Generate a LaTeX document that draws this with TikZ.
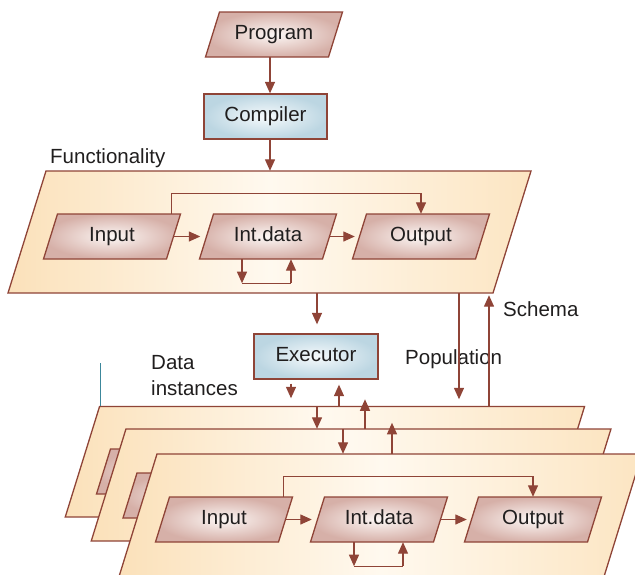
\documentclass[tikz,border=0pt]{standalone}
\usepackage{fontspec}
\setmainfont{Liberation Sans}
\usetikzlibrary{arrows.meta,calc}

\definecolor{edge}{RGB}{143,68,55}
\definecolor{ink}{RGB}{32,30,30}
\definecolor{peachL}{RGB}{251,225,186}
\definecolor{peachM}{RGB}{255,249,239}
\definecolor{peachR}{RGB}{252,229,194}
\definecolor{pinkO}{RGB}{214,176,168}
\definecolor{pinkI}{RGB}{252,247,245}
\definecolor{blueO}{RGB}{188,214,226}
\definecolor{blueI}{RGB}{246,250,252}
\definecolor{tealline}{RGB}{60,135,155}

\newcommand\dgfont{\fontsize{20.5}{24.6}\selectfont}

% slanted quadrilateral: style, centre x, centre y, top-edge width, height, slant
\newcommand\slantshape[6]{%
  \path[#1] (#2-#4/2+#6/2,#3-#5/2) -- (#2+#4/2+#6/2,#3-#5/2)
    -- (#2+#4/2-#6/2,#3+#5/2) -- (#2-#4/2-#6/2,#3+#5/2) -- cycle;}

% a data box: name, centre x, centre y, label
\newcommand\databox[4]{%
  \slantshape{pbox}{#2}{#3}{123}{45}{14}%
  \node[btext] (#1) at (#2,#3) {#4};}

% a layer panel: name, centre x, centre y, height, slant
\newcommand\layer[5]{%
  \slantshape{panelfill}{#2}{#3}{485}{#4}{#5}%
  \node[pnode, minimum height=#4pt] (#1) at (#2,#3) {};}

\begin{document}
\begin{tikzpicture}[x=1pt,y=-1pt,
  pbox/.style={draw=edge, line width=1.3pt, inner color=pinkI, outer color=pinkO},
  btext/.style={inner sep=0pt, minimum width=123pt, minimum height=45pt,
    text height=15pt, text depth=4.3pt, font=\dgfont, text=ink},
  rbox/.style={draw=edge, line width=1.3pt, inner color=blueI, outer color=blueO,
    inner sep=0pt, minimum height=45pt, text height=15pt, text depth=4.3pt,
    font=\dgfont, text=ink},
  panelfill/.style={draw=edge, line width=1.3pt, left color=peachL,
    right color=peachR, middle color=peachM},
  pnode/.style={inner sep=0pt, minimum width=485pt},
  lbl/.style={inner sep=0pt, font=\dgfont, text=ink, anchor=base west},
  arr/.style={draw=edge, line width=1.3pt, -{Triangle[length=11.5pt,width=10pt]}},
  wire/.style={draw=edge, line width=1.3pt},
]
\useasboundingbox (0,0) rectangle (635,574);

% vertical lanes used by the connectors between layers
\coordinate (spine) at (270,0);
\coordinate (laneA) at (317,0);
\coordinate (laneB) at (291,0);
\coordinate (laneC) at (339,0);
\coordinate (laneD) at (365,0);
\coordinate (laneE) at (343,0);
\coordinate (laneF) at (392,0);
\coordinate (lanePop) at (459,0);
\coordinate (laneSch) at (489,0);
\coordinate (laneT) at (100,0);

% ---------- functionality layer ----------
\layer{func}{269.5}{232}{122}{38}
\databox{in1}{112}{236.5}{Input}
\databox{id1}{268}{236.5}{Int.data}
\databox{out1}{421}{236.5}{Output}
\draw[arr, shorten >=6pt] (in1.east) -- (id1.west);
\draw[arr, shorten >=4.5pt] (id1.east) -- (out1.west);
\draw[arr] ([xshift=-2pt]in1.north east) -- ++(0,-20) -| (out1.north);
\coordinate (lb1) at ([xshift=-26pt,yshift=-24pt]id1.south);
\coordinate (rb1) at ([xshift=23pt,yshift=-24pt]id1.south);
\draw[arr] (id1.south -| lb1) -- (lb1);
\draw[wire] (lb1) -- (rb1);
\draw[arr] (rb1) -- (id1.south -| rb1);

\node[lbl] (funclbl) at (50,163) {Functionality};

% ---------- program, compiler, executor ----------
\databox{prog}{274}{34.5}{Program}
\node[rbox, minimum width=123pt] (comp) at (265.5,116.5) {Compiler};
\node[rbox, minimum width=124pt] (exe) at (316,356.5) {Executor};

\draw[arr] (prog.south -| spine) -- (comp.north -| spine);
\draw[arr] (comp.south -| spine) -- (func.north -| spine);
\draw[arr, shorten >=9pt] (func.south -| laneA) -- (exe.north -| laneA);

\node[lbl] (schlbl) at (503,316) {Schema};
\node[lbl] (poplbl) at (405,364) {Population};
\node[lbl] (datlblA) at (151,369) {Data};
\node[lbl] (datlblB) at (151,395) {instances};

% ---------- data instance layers ----------
\layer{p1}{324.9}{461.75}{110.5}{34.3}
\slantshape{pbox}{165}{471.5}{123}{45}{14}

\draw[tealline, line width=0.9pt] (p1.north -| laneT) -- ++(0,-43);
\draw[arr, shorten <=4pt, shorten >=8pt] (exe.south -| laneB) -- (p1.north -| laneB);
\draw[arr, shorten >=5pt] (p1.north -| laneC) -- (exe.south -| laneC);
\draw[arr, shorten >=7pt] (func.south -| lanePop) -- (p1.north -| lanePop);
\draw[arr, shorten >=2pt] (p1.north -| laneSch) -- (func.south -| laneSch);

\layer{p2}{351.1}{485}{112}{34.7}
\slantshape{pbox}{191.5}{495.5}{123}{45}{14}
\draw[arr] (p1.north -| laneA) -- (p2.north -| laneA);
\draw[arr, shorten >=-7pt] (p2.north -| laneD) -- (p1.north -| laneD);

\layer{p3}{380.6}{515}{122}{37.8}
\draw[arr] (p2.north -| laneE) -- (p3.north -| laneE);
\draw[arr, shorten >=-6pt] (p3.north -| laneF) -- (p2.north -| laneF);

\databox{in3}{224}{519.5}{Input}
\databox{id3}{379}{519.5}{Int.data}
\databox{out3}{533}{519.5}{Output}
\draw[arr, shorten >=5.5pt] (in3.east) -- (id3.west);
\draw[arr, shorten >=4.5pt] (id3.east) -- (out3.west);
\draw[arr] ([xshift=-2.5pt]in3.north east) -- ++(0,-20) -| (out3.north);
\coordinate (lb3) at ([xshift=-25pt,yshift=-24pt]id3.south);
\coordinate (rb3) at ([xshift=24pt,yshift=-24pt]id3.south);
\draw[arr] (id3.south -| lb3) -- (lb3);
\draw[wire] (lb3) -- (rb3);
\draw[arr] (rb3) -- (id3.south -| rb3);
\end{tikzpicture}
\end{document}
